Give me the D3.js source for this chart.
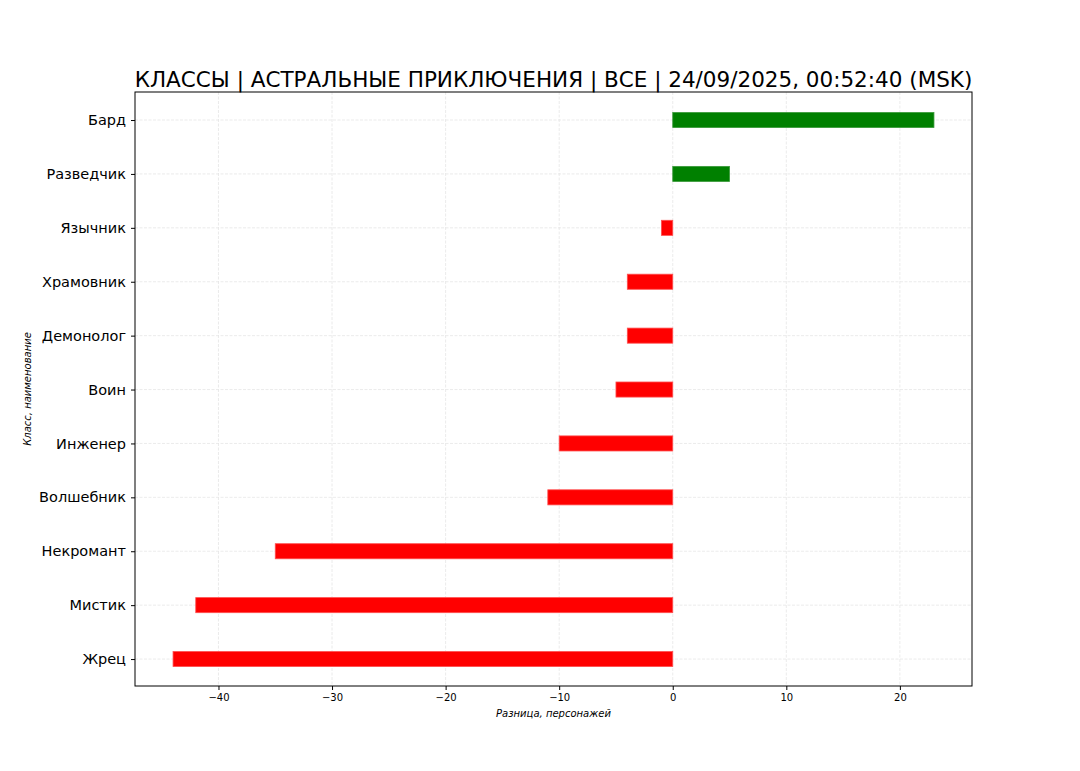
<!DOCTYPE html>
<html><head><meta charset="utf-8">
<script src="https://cdn.jsdelivr.net/npm/d3@7"></script>
<style>body{margin:0;background:#fff}svg{display:block}</style>
</head><body>
<svg id="c" width="1080" height="771"></svg>
<script>
const categories = ["Бард","Разведчик","Язычник","Храмовник","Демонолог","Воин","Инженер","Волшебник","Некромант","Мистик","Жрец"];
const values = [23, 5, -1, -4, -4, -5, -10, -11, -35, -42, -44];
const xTicks = [-40, -30, -20, -10, 0, 10, 20];
const titleText = "КЛАССЫ | АСТРАЛЬНЫЕ ПРИКЛЮЧЕНИЯ | ВСЕ | 24/09/2025, 00:52:40 (MSK)";
const xLabel = "Разница, персонажей";
const yLabel = "Класс, наименование";

const svg = d3.select("#c");
const L = 135, R = 972, T = 92, B = 686;
const font = "'DejaVu Sans', sans-serif";

const x = d3.scaleLinear().domain([-47.35, 26.35]).range([L, R]);
const y = d3.scaleLinear().domain([-0.52, 10.5]).range([T, B]);
const barH = 0.28;

// grid
const g = svg.append("g");
g.selectAll(".vg").data(xTicks).join("line")
  .attr("x1", d => x(d)).attr("x2", d => x(d)).attr("y1", T).attr("y2", B)
  .attr("stroke", "#e6e6e6").attr("stroke-width", 0.8).attr("stroke-dasharray", "3,1.5");
g.selectAll(".hg").data(categories).join("line")
  .attr("x1", L).attr("x2", R).attr("y1", (d,i) => y(i)).attr("y2", (d,i) => y(i))
  .attr("stroke", "#e6e6e6").attr("stroke-width", 0.8).attr("stroke-dasharray", "3,1.5");

// bars
svg.append("g").selectAll("rect").data(values).join("rect")
  .attr("x", d => x(Math.min(0, d)))
  .attr("width", d => Math.abs(x(d) - x(0)))
  .attr("y", (d,i) => y(i - barH/2))
  .attr("height", y(barH) - y(0))
  .attr("fill", d => d >= 0 ? "#008000" : "#ff0000")
  .attr("stroke", d => d >= 0 ? "#3a9a3a" : "#ff5050")
  .attr("stroke-width", 0.8);

// frame
svg.append("rect").attr("x", L).attr("y", T).attr("width", R - L).attr("height", B - T)
  .attr("fill", "none").attr("stroke", "#000").attr("stroke-width", 1);

// x axis
const xa = svg.append("g").attr("transform", `translate(0,${B})`)
  .call(d3.axisBottom(x).tickValues(xTicks).tickSize(4).tickPadding(4).tickFormat(d => d < 0 ? "\u2212" + Math.abs(d) : d));
xa.select(".domain").remove();
xa.selectAll("text").attr("font-family", font).attr("font-size", 10).attr("fill", "#000");
xa.selectAll("line").attr("stroke", "#000");

// y axis
const ya = svg.append("g").attr("transform", `translate(${L},0)`)
  .call(d3.axisLeft(y).tickValues(d3.range(categories.length)).tickSize(4).tickPadding(5).tickFormat(i => categories[i]));
ya.select(".domain").remove();
ya.selectAll("text").attr("font-family", font).attr("font-size", 14.5).attr("fill", "#000");
ya.selectAll("line").attr("stroke", "#000");

// title
svg.append("text").attr("x", (L + R) / 2).attr("y", 87).attr("text-anchor", "middle")
  .attr("font-family", font).attr("font-size", 21.5).attr("fill", "#000").text(titleText);

// axis labels
svg.append("text").attr("x", (L + R) / 2).attr("y", 717).attr("text-anchor", "middle")
  .attr("font-family", font).attr("font-style", "italic").attr("font-size", 10).attr("fill", "#000").text(xLabel);
svg.append("text").attr("transform", `translate(31,${(T + B) / 2 + 0}) rotate(-90)`).attr("text-anchor", "middle")
  .attr("font-family", font).attr("font-style", "italic").attr("font-size", 10).attr("fill", "#000").text(yLabel);
</script>
</body></html>
